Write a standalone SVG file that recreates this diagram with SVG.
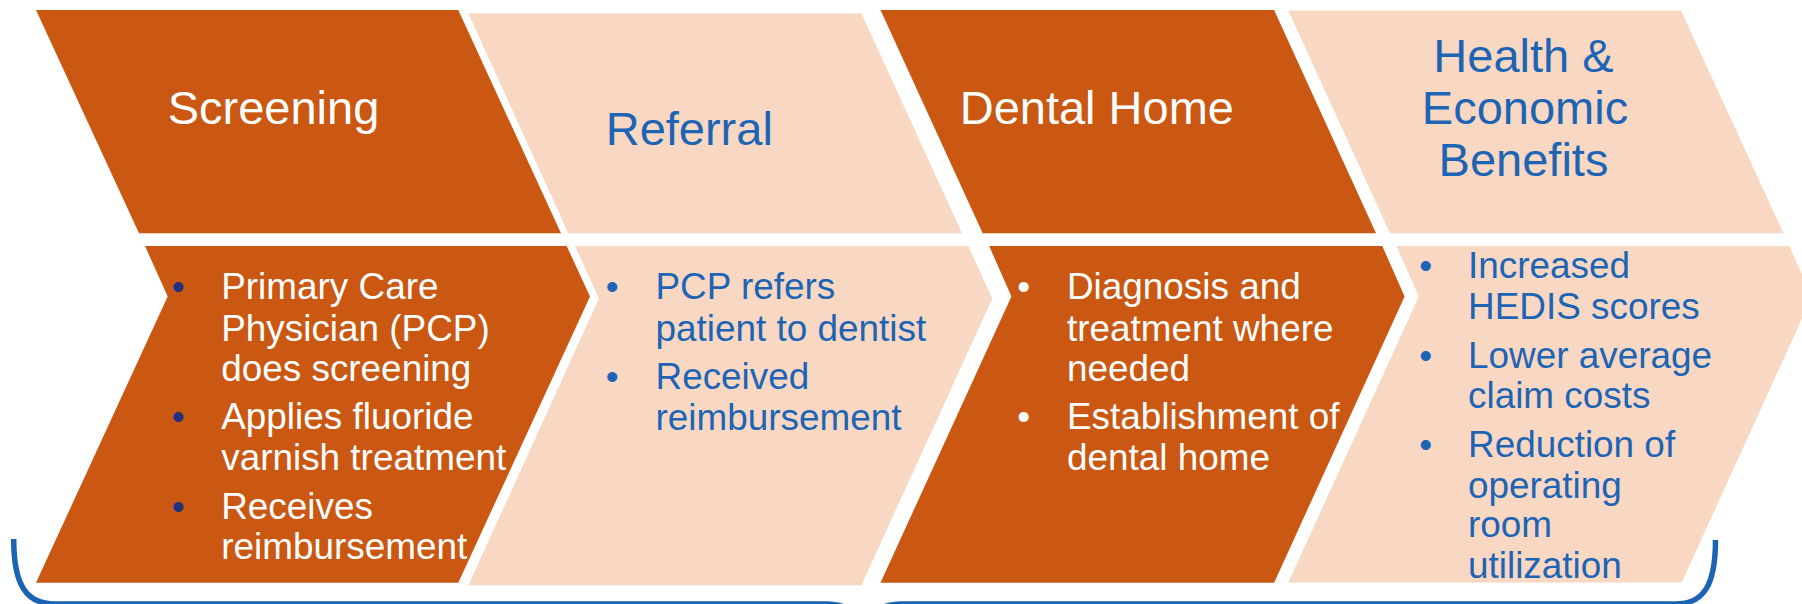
<svg xmlns="http://www.w3.org/2000/svg" width="1802" height="604" viewBox="0 0 1802 604">
<style>
.dark{fill:#CA5812}
.light{fill:#F8D7C3}
text{font-family:"Liberation Sans",Arial,sans-serif}
.title{font-size:47px}
.body{font-size:36.9px}
.w{fill:#FFFFFF}
.b{fill:#1E64B4}
.nv{fill:#22307F}
.brace{fill:none;stroke:#1B63B3;stroke-width:5.5}
</style>
<rect width="1802" height="604" fill="#FFFFFF"/>

<g id="screening-head">
<polygon class="dark" points="36,10 458.3,10 561,233.3 139,233.3"/>
<text class="title w" x="167.7" y="124">Screening</text>
</g>
<g id="referral-head">
<polygon class="light" points="468.3,13.3 861.4,13.3 962,233.3 568.3,233.3"/>
<text class="title b" x="605.7" y="144.5">Referral</text>
</g>
<g id="dentalhome-head">
<polygon class="dark" points="880.5,10 1274.1,10 1376,233.3 982.7,233.3"/>
<text class="title w" x="959.7" y="124.4">Dental Home</text>
</g>
<g id="benefits-head">
<polygon class="light" points="1288.3,10.4 1681,10.4 1783.5,233.3 1390,233.3"/>
<text class="title b" text-anchor="middle" x="1523.5" y="72">Health &amp;</text>
<text class="title b" text-anchor="middle" x="1525" y="124">Economic</text>
<text class="title b" text-anchor="middle" x="1523.5" y="176">Benefits</text>
</g>

<g id="screening-body">
<polygon class="dark" points="145,246 566.7,246 590,296.6 458.3,582.7 36,582.7 167.7,296.6"/>
<text class="body nv" x="178.3" y="299" text-anchor="middle">•</text>
<text class="body nv" x="178.3" y="428.7" text-anchor="middle">•</text>
<text class="body nv" x="178.3" y="518.9" text-anchor="middle">•</text>
<text class="body w" x="221.2" y="299">Primary Care</text>
<text class="body w" x="221.2" y="340.5">Physician (PCP)</text>
<text class="body w" x="221.2" y="381.4">does screening</text>
<text class="body w" x="221.2" y="428.7">Applies fluoride</text>
<text class="body w" x="221.2" y="470">varnish treatment</text>
<text class="body w" x="221.2" y="518.9">Receives</text>
<text class="body w" x="221.2" y="558.6">reimbursement</text>
</g>
<g id="referral-body">
<polygon class="light" points="575,246 968.2,246 992.3,298.4 861.4,585.3 468.3,585.3 599,298.4"/>
<text class="body b" x="612.3" y="299" text-anchor="middle">•</text>
<text class="body b" x="612.3" y="389" text-anchor="middle">•</text>
<text class="body b" x="655.5" y="299">PCP refers</text>
<text class="body b" x="655.5" y="340.5">patient to dentist</text>
<text class="body b" x="655.5" y="389">Received</text>
<text class="body b" x="655.5" y="430.3">reimbursement</text>
</g>
<g id="dentalhome-body">
<polygon class="dark" points="989.2,246 1382.3,246 1404.6,296.6 1274.1,582.7 880.5,582.7 1011.4,296.6"/>
<text class="body w" x="1023.6" y="299" text-anchor="middle">•</text>
<text class="body w" x="1023.6" y="428.7" text-anchor="middle">•</text>
<text class="body w" x="1066.9" y="299">Diagnosis and</text>
<text class="body w" x="1066.9" y="340.5">treatment where</text>
<text class="body w" x="1066.9" y="381.4">needed</text>
<text class="body w" x="1066.9" y="428.7">Establishment of</text>
<text class="body w" x="1066.9" y="470">dental home</text>
</g>
<g id="benefits-body">
<polygon class="light" points="1396.5,246 1789.3,246 1812,296.6 1681.7,582.5 1288.3,582.5 1418.8,296.6"/>
<text class="body b" x="1425.7" y="278.1" text-anchor="middle">•</text>
<text class="body b" x="1425.7" y="367.9" text-anchor="middle">•</text>
<text class="body b" x="1425.7" y="457.2" text-anchor="middle">•</text>
<text class="body b" x="1468" y="278.1">Increased</text>
<text class="body b" x="1468" y="319">HEDIS scores</text>
<text class="body b" x="1468" y="367.9">Lower average</text>
<text class="body b" x="1468" y="408.3">claim costs</text>
<text class="body b" x="1468" y="457.2">Reduction of</text>
<text class="body b" x="1468" y="497.7">operating</text>
<text class="body b" x="1468" y="537.4">room</text>
<text class="body b" x="1468" y="577.8">utilization</text>
</g>

<g id="connectors">
<path class="brace" d="M13.7,539 C13.7,585 26,604 55,604 H826 Q864,604 864,645 M864,645 Q864,604 902,604 H1675 C1704,604 1715.5,585 1715.5,540"/>
</g>
</svg>
